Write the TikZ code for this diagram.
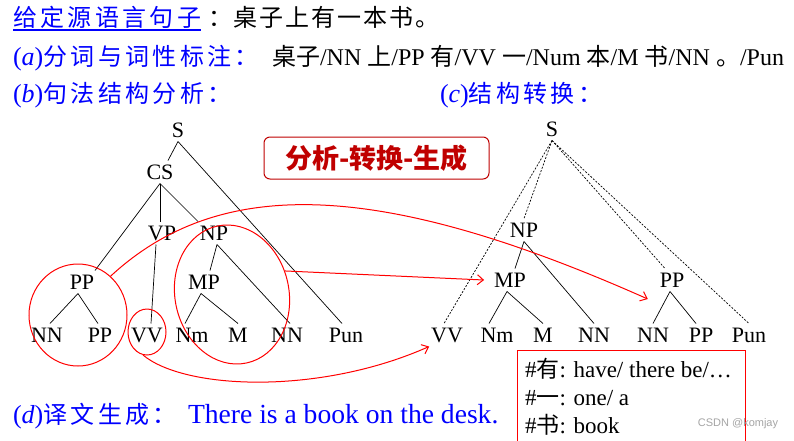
\documentclass[tikz,border=0pt]{standalone}
\usepackage{fontspec}
\setmainfont{Liberation Serif}
\newfontfamily\cjk{Noto Sans CJK SC}
\newfontfamily\cjkwide{Noto Sans CJK SC}[LetterSpace=14]
\newfontfamily\cjkmid{Noto Sans CJK SC}[LetterSpace=8]
\newfontfamily\wmfont{Liberation Sans}
\usetikzlibrary{arrows.meta,shapes.geometric}
\definecolor{titred}{RGB}{192,0,0}
\definecolor{wmgray}{RGB}{165,165,165}
\newcommand\zhc[1]{{\cjk #1}}
\begin{document}
\begin{tikzpicture}[x=1pt,y=-1pt,
  lab/.style={inner sep=0pt, outer xsep=0pt, outer ysep=4pt, text height=15pt, text depth=0pt, font=\fontsize{22}{24}\selectfont},
  txt/.style={anchor=base west, inner sep=0pt, outer sep=0pt},
  tl/.style={black, line width=0.7pt},
  dl/.style={black, line width=0.7pt, dash pattern=on 2pt off 1.5pt},
  rl/.style={red, line width=1pt},
  ra/.style={rl, -{Straight Barb[length=6pt,width=10pt]}},
  ring/.style={ellipse, draw=red, line width=1pt, inner sep=0pt}
]
\useasboundingbox (0,0) rectangle (794,440);
\fill[white] (0,0) rectangle (794,440);

% header lines
\node[txt, text=blue, font=\fontsize{24}{24}\selectfont\cjkwide] (h1) at (13,26) {给定源语言句子};
\draw[blue, line width=1.2pt] ([yshift=-4pt]h1.base west) -- ([yshift=-4pt]h1.base east);
\node[txt, font=\fontsize{24}{24}\selectfont\cjkmid] (h1b) at (208,26) {：桌子上有一本书。};

\node[txt, text=blue, font=\fontsize{26}{26}\selectfont] (h2) at (13,65) {(\textit{a}){\fontsize{24}{24}\selectfont\cjkwide 分词与词性标注：}};
\node[txt, font=\fontsize{24}{24}\selectfont] (h2b) at (272,65) {\zhc{桌子}/NN \zhc{上}/PP \zhc{有}/VV \zhc{一}/Num \zhc{本}/M \zhc{书}/NN \zhc{。}/Pun};

\node[txt, text=blue, font=\fontsize{26}{26}\selectfont] (h3) at (13,102) {(\textit{b}){\fontsize{24}{24}\selectfont\cjkwide 句法结构分析：}};
\node[txt, text=blue, font=\fontsize{26}{26}\selectfont] (h4) at (440,102) {(\textit{c}){\fontsize{24}{24}\selectfont\cjkwide 结构转换：}};

\node[txt, text=blue, font=\fontsize{26}{26}\selectfont] (h5) at (13,423) {(\textit{d}){\fontsize{24}{24}\selectfont\cjkwide 译文生成：}};
\node[txt, text=blue, font=\fontsize{27.6}{27}\selectfont] (h5b) at (188,423) {There is a book on the desk.};

% title box
\node[draw=titred, text=titred, line width=1pt, rounded corners=6pt, minimum width=225pt, minimum height=42pt, inner sep=0pt, font=\fontsize{27}{27}\selectfont\cjk\bfseries] (title) at (376.5,158) {分析-转换-生成};

% left tree
\node[lab] (S1) at (178,130) {S};
\node[lab] (CS1) at (160,172) {CS};
\node[lab] (VP1) at (162,233) {VP};
\node[lab] (NP1) at (214,233) {NP};
\node[lab] (PP1) at (82,282) {PP};
\node[lab] (MP1) at (204,282) {MP};
\node[lab] (NNa) at (47,335) {NN};
\node[lab] (PPb) at (100,335) {PP};
\node[lab] (VV1) at (147,335) {VV};
\node[lab] (Nm1) at (192,335) {Nm};
\node[lab] (M1) at (238,335) {M};
\node[lab] (NNb) at (287,335) {NN};
\node[lab] (Pun1) at (346,335) {Pun};

\draw[tl] (S1.south) -- ([xshift=8pt]CS1.north);
\draw[tl] (S1.south) -- ([xshift=-4pt]Pun1.north);
\draw[tl] (CS1.south) -- ([xshift=13pt]PP1.north);
\draw[tl] (CS1.south) -- ([xshift=-2pt]VP1.north);
\draw[tl] (CS1.south) -- ([xshift=-16pt]NP1.north);
\draw[tl] ([xshift=-6pt]VP1.south) -- ([xshift=4pt]VV1.north);
\draw[tl] ([xshift=3pt]NP1.south) -- ([xshift=6pt]MP1.north);
\draw[tl] ([xshift=3pt]NP1.south) -- ([xshift=3pt]NNb.north);
\draw[tl] ([xshift=-4pt]PP1.south) -- ([xshift=3pt]NNa.north);
\draw[tl] ([xshift=-4pt]PP1.south) -- ([xshift=-2pt]PPb.north);
\draw[tl] ([xshift=-3pt]MP1.south) -- ([xshift=-7pt]Nm1.north);
\draw[tl] ([xshift=-3pt]MP1.south) -- (M1.north);

% right tree
\node[lab] (S2) at (552,129) {S};
\node[lab] (NP2) at (524,230) {NP};
\node[lab] (MP2) at (510,280) {MP};
\node[lab] (PP2) at (672,280) {PP};
\node[lab] (VV2) at (447,335) {VV};
\node[lab] (Nm2) at (497,335) {Nm};
\node[lab] (M2) at (543,335) {M};
\node[lab] (NNc) at (594,335) {NN};
\node[lab] (NNd) at (653,335) {NN};
\node[lab] (PPc) at (701,335) {PP};
\node[lab] (Pun2) at (749,335) {Pun};

\draw[dl] (S2.south) -- ([xshift=-3pt]VV2.north);
\draw[dl] (S2.south) -- (NP2.north);
\draw[dl] (S2.south) -- ([xshift=-7pt]PP2.north);
\draw[dl] (S2.south) -- (Pun2.north);
\draw[tl] (NP2.south) -- ([xshift=5pt]MP2.north);
\draw[tl] (NP2.south) -- (NNc.north);
\draw[tl] ([xshift=-3pt]MP2.south) -- ([xshift=-8pt]Nm2.north);
\draw[tl] ([xshift=-3pt]MP2.south) -- (M2.north);
\draw[tl] ([xshift=-2pt]PP2.south) -- (NNd.north);
\draw[tl] ([xshift=-2pt]PP2.south) -- ([xshift=-5pt]PPc.north);

% red rings
\node[ring, minimum width=98pt, minimum height=102pt] (cPP) at (78,315) {};
\node[ring, minimum width=38pt, minimum height=46pt] (cVV) at (147,332) {};
\node[ring, minimum width=114pt, minimum height=140pt, rotate=12] (cNP) at (232,294.5) {};

% red arrows
\draw[ra] (cPP.50) .. controls (220,175) and (380,180) .. ([xshift=-12pt,yshift=-7.5pt]PP2.south west);
\draw[ra] (cNP.12) -- ([xshift=-10pt]MP2.west);
\draw[ra] (cVV.260) .. controls (185,390) and (320,395) .. ([xshift=-2pt]VV2.south west);

% dictionary box
\draw[red, line width=1pt] (517,442) -- (517,350) -- (745,350) -- (745,442);
\node[txt, font=\fontsize{23}{23}\selectfont] (d1) at (525,377) {\#\zhc{有}: have/ there be/…};
\node[txt, font=\fontsize{23}{23}\selectfont] (d2) at (525,405) {\#\zhc{一}: one/ a};
\node[txt, font=\fontsize{23}{23}\selectfont] (d3) at (525,433) {\#\zhc{书}: book};

\node[text=wmgray, inner sep=0pt, font=\fontsize{11}{11}\selectfont\wmfont] (wm) at (738,424) {CSDN @komjay};
\end{tikzpicture}
\end{document}
